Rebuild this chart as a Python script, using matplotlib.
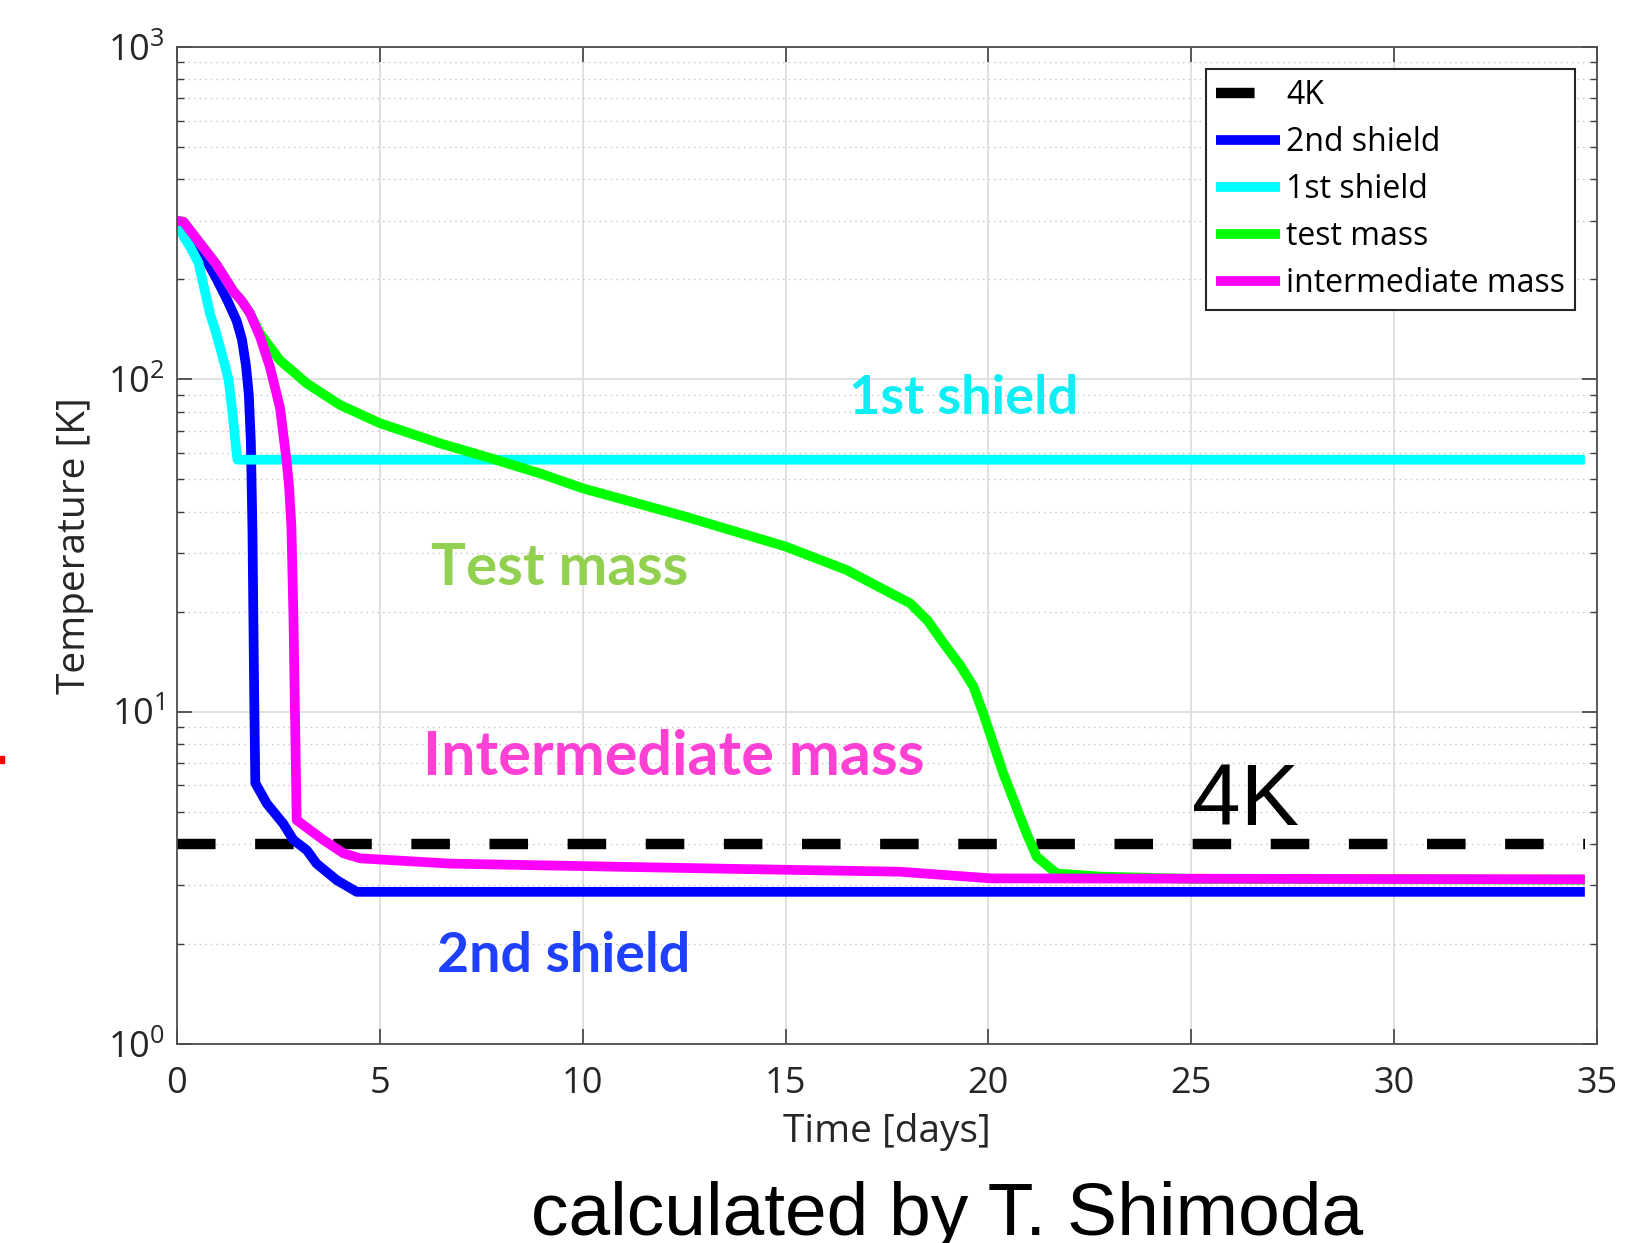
import numpy as np
import matplotlib.pyplot as plt
from matplotlib.patches import Rectangle

t_4k = [0, 34.7]
T_4k = [4, 4]

t_2nd = [0, 0.32, 0.98, 1.25, 1.47, 1.60, 1.70, 1.77, 1.82, 1.86, 1.90, 1.93,
         2.21, 2.62, 2.87, 3.20, 3.44, 3.94, 4.43, 34.7]
T_2nd = [300, 281, 200, 172, 150, 132, 110, 90, 65, 35, 12, 6.1,
         5.3, 4.6, 4.11, 3.83, 3.49, 3.11, 2.87, 2.87]

t_1st = [0, 0.16, 0.32, 0.53, 0.81, 0.94, 1.10, 1.27, 1.37, 1.45, 1.49, 34.7]
T_1st = [300, 269, 251, 224, 158, 141, 120, 100, 79, 63, 57.3, 57.3]

t_tm = [0, 0.16, 0.98, 1.39, 1.60, 1.80, 2.05, 2.54, 3.20, 4.02, 5.0, 6.48,
        7.47, 8.95, 10, 12.54, 15, 16.5, 17.6, 18.07, 18.5, 18.89, 19.3,
        19.63, 19.87, 20.37, 20.94, 21.19, 21.68, 22.75, 25, 34.7]
T_tm = [300, 298, 221, 184, 172, 158, 137, 114, 97.2, 83.7, 73.8, 64.2,
        59.2, 52.1, 47, 38.6, 31.4, 26.7, 22.7, 21.2, 18.8, 16.1, 13.8,
        11.9, 9.9, 6.5, 4.3, 3.66, 3.26, 3.19, 3.14, 3.12]

t_im = [0, 0.16, 0.98, 1.39, 1.60, 1.80, 2.05, 2.29, 2.54, 2.70, 2.76, 2.82,
        2.87, 2.92, 2.95, 3.28, 3.61, 4.10, 4.51, 6.73, 10, 14, 17.8, 20.07,
        34.7]
T_im = [300, 298, 221, 184, 172, 158, 134, 109, 82, 57, 48, 36,
        19.3, 8.0, 4.72, 4.40, 4.11, 3.75, 3.62, 3.49, 3.43, 3.36, 3.30, 3.15,
        3.13]

labels = ["4K", "2nd shield", "1st shield", "test mass", "intermediate mass"]
xticks = [0, 5, 10, 15, 20, 25, 30, 35]

plt.rcParams["font.family"] = ["Open Sans", "DejaVu Sans"]
plt.rcParams["mathtext.default"] = "regular"

W, H = 1648, 1243
fig = plt.figure(figsize=(W / 100, H / 100), dpi=100)
ax = fig.add_axes([177 / W, 1 - 1044 / H, 1420 / W, 997 / H])

lw = 7
ax.plot(t_4k, T_4k, color="black", lw=7.5, dashes=(3.7, 3.8), label=labels[0])
ax.plot(t_2nd, T_2nd, color="#0000ff", lw=lw, solid_joinstyle="round",
        solid_capstyle="butt", label=labels[1])
ax.plot(t_1st, T_1st, color="#00ffff", lw=lw, solid_joinstyle="round",
        solid_capstyle="butt", label=labels[2])
ax.plot(t_tm, T_tm, color="#00ff00", lw=lw, solid_joinstyle="round",
        solid_capstyle="butt", label=labels[3])
ax.plot(t_im, T_im, color="#ff00ff", lw=lw, solid_joinstyle="round",
        solid_capstyle="butt", label=labels[4])

ax.set_yscale("log")
ax.set_xlim(0, 35)
ax.set_ylim(1, 1000)
ax.set_xticks(xticks)

ax.grid(True, which="major", color="#dedede", lw=1.3, ls="-")
ax.grid(True, which="minor", axis="y", color="#c4c4c4", lw=1.0, ls=(0, (1, 3)))
ax.set_axisbelow(True)

for s in ax.spines.values():
    s.set_color("#4d4d4d")
    s.set_linewidth(1.3)
ax.tick_params(which="both", direction="in", top=True, right=True,
               color="#404040", labelcolor="#262626", labelsize=26)
ax.tick_params(which="major", length=10.8, width=1.2)
ax.tick_params(which="minor", length=5, width=1.0)
ax.tick_params(axis="x", pad=16)
ax.tick_params(axis="y", pad=9)

ax.set_xlabel("Time [days]", fontsize=28, color="#262626", labelpad=8)
ax.set_ylabel("Temperature [K]", fontsize=28, color="#262626", labelpad=10)

leg = ax.legend(loc="upper right", fontsize=23, fancybox=False, framealpha=1,
                edgecolor="#262626", borderpad=0.3, labelspacing=0.44,
                handlelength=2.0, handletextpad=0.2, borderaxespad=0.7)
leg.get_frame().set_linewidth(1.5)

# tekst in de grafiek
lato = ["Lato", "DejaVu Sans"]
ax.text(16.56, 78.6, "1st shield", color="#10eef5", fontsize=39,
        fontweight="bold", family=lato)
ax.text(6.26, 24.0, "Test mass", color="#92d050", fontsize=42,
        fontweight="bold", family=lato)
ax.text(6.06, 6.44, "Intermediate mass", color="#ff40d4", fontsize=44,
        fontweight="bold", family=lato)
ax.text(6.41, 1.65, "2nd shield", color="#1f40ff", fontsize=40,
        fontweight="bold", family=lato)
ax.text(25.02, 4.56, "4K", fontsize=63, color="black",
        family=["Liberation Sans", "DejaVu Sans"])

fig.text(531 / W, 1 - 1235 / H, "calculated by T. Shimoda", fontsize=54,
         color="black", family=["Liberation Sans", "DejaVu Sans"])
fig.add_artist(Rectangle((0, 1 - 763 / H), 4 / W, 7 / H, color="red",
                         transform=fig.transFigure))

fig.savefig("out.png", dpi=100)
